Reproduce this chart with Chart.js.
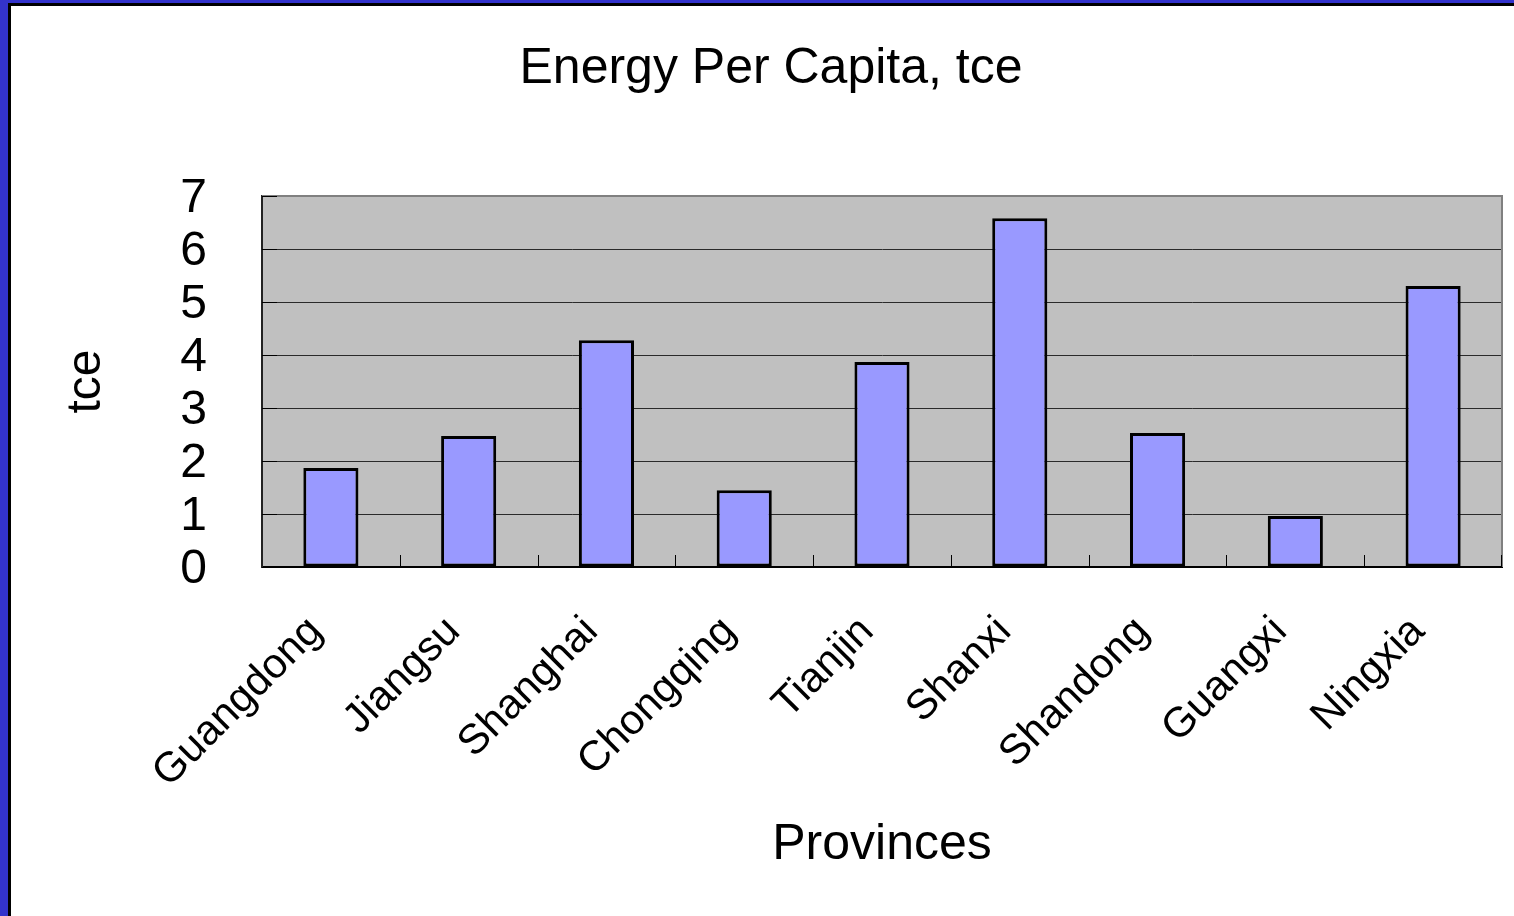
<!DOCTYPE html>
<html>
<head>
<meta charset="utf-8">
<title>Energy Per Capita, tce</title>
<script src="https://cdn.jsdelivr.net/npm/chart.js@4.4.1/dist/chart.umd.min.js"></script>
<style>
  html, body { margin: 0; padding: 0; background: #ffffff; }
  #wrap { position: relative; width: 1514px; height: 916px; overflow: hidden; }
  #chart { position: absolute; left: 0; top: 0; }
  .edge { position: absolute; pointer-events: none; }
</style>
</head>
<body>
<div id="wrap">
  <canvas id="chart" width="1514" height="916"></canvas>
  <!-- slide frame: blue outer band with a thin black inner line -->
  <div class="edge" style="left:0;top:0;width:8px;height:916px;background:#3333cc"></div>
  <div class="edge" style="left:0;top:0;width:1514px;height:3px;background:#3333cc"></div>
  <div class="edge" style="left:8px;top:3px;width:3px;height:913px;background:#000"></div>
  <div class="edge" style="left:8px;top:3px;width:1506px;height:3px;background:#000"></div>
</div>
<script>
const chartTitle = 'Energy Per Capita, tce';
const xAxisTitle = 'Provinces';
const yAxisTitle = 'tce';
const provinces = ['Guangdong', 'Jiangsu', 'Shanghai', 'Chongqing', 'Tianjin', 'Shanxi', 'Shandong', 'Guangxi', 'Ningxia'];
const energyPerCapita = [1.87, 2.47, 4.28, 1.45, 3.87, 6.58, 2.53, 0.96, 5.30];
const yTicks = [0, 1, 2, 3, 4, 5, 6, 7];

const FONT = "'Liberation Sans', Arial, Helvetica, sans-serif";

// grey plot background plus the frame and inner category ticks
const plotFrame = {
  id: 'plotFrame',
  beforeDraw(chart) {
    const { ctx, chartArea: a } = chart;
    ctx.save();
    ctx.fillStyle = '#c0c0c0';
    ctx.fillRect(a.left, a.top, a.right - a.left, a.bottom - a.top);
    ctx.restore();
  },
  afterDatasetsDraw(chart) {
    const { ctx, chartArea: a, scales } = chart;
    const xs = scales.x;
    ctx.save();
    // top and right edge of the plot
    ctx.strokeStyle = '#808080';
    ctx.lineWidth = 2;
    ctx.beginPath();
    ctx.moveTo(a.left, a.top);
    ctx.lineTo(a.right, a.top);
    ctx.lineTo(a.right, a.bottom);
    ctx.stroke();
    // category separators rising from the bottom axis
    ctx.strokeStyle = '#000';
    ctx.lineWidth = 1;
    ctx.beginPath();
    for (let i = 1; i <= provinces.length; i++) {
      const x = i < provinces.length
        ? Math.round((xs.getPixelForValue(i - 1) + xs.getPixelForValue(i)) / 2) + 0.5
        : a.right - 0.5;
      ctx.moveTo(x, a.bottom);
      ctx.lineTo(x, a.bottom - 12);
    }
    // short value ticks just inside the left axis
    const ys = scales.y;
    yTicks.forEach(v => {
      const y = Math.round(ys.getPixelForValue(v)) + 0.5;
      ctx.moveTo(a.left, y);
      ctx.lineTo(a.left + 15, y);
    });
    ctx.stroke();
    ctx.restore();
  }
};

new Chart(document.getElementById('chart'), {
  type: 'bar',
  data: {
    labels: provinces,
    datasets: [{
      label: chartTitle,
      data: energyPerCapita,
      backgroundColor: '#9999ff',
      borderColor: '#000000',
      borderWidth: 3,
      borderSkipped: false,
      barPercentage: 0.4,
      categoryPercentage: 1.0
    }]
  },
  options: {
    responsive: false,
    animation: false,
    layout: { padding: { left: 40, right: 12, top: 0, bottom: 37 } },
    plugins: {
      legend: { display: false },
      tooltip: { enabled: false },
      title: {
        display: true,
        text: chartTitle,
        color: '#000',
        font: { family: FONT, size: 50, weight: 'normal', lineHeight: 1.2 },
        padding: { top: 39, bottom: 97 }
      }
    },
    scales: {
      x: {
        type: 'category',
        grid: { display: false },
        border: { display: true, color: '#000', width: 2 },
        ticks: {
          color: '#000',
          font: { family: FONT, size: 42 },
          minRotation: 45,
          maxRotation: 45,
          autoSkip: false,
          padding: 32,
          labelOffset: -15
        },
        title: {
          display: true,
          text: xAxisTitle,
          color: '#000',
          font: { family: FONT, size: 50, lineHeight: 1.2 },
          padding: { top: 0, bottom: 4 }
        },
        afterFit(scale) { scale.height = 312; }
      },
      y: {
        min: 0,
        max: 7,
        afterBuildTicks(scale) { scale.ticks = yTicks.map(v => ({ value: v })); },
        grid: { color: '#2a2a2a', lineWidth: 1, drawTicks: false },
        border: { display: true, color: '#222', width: 2 },
        ticks: {
          color: '#000',
          font: { family: FONT, size: 48 },
          padding: 55,
          autoSkip: false,
          labelOffset: 3
        },
        title: {
          display: true,
          text: yAxisTitle,
          color: '#000',
          font: { family: FONT, size: 48, lineHeight: 1.2 },
          padding: { top: 18, bottom: 0 }
        },
        afterFit(scale) { scale.width = 222; }
      }
    }
  },
  plugins: [plotFrame]
});
</script>
</body>
</html>
